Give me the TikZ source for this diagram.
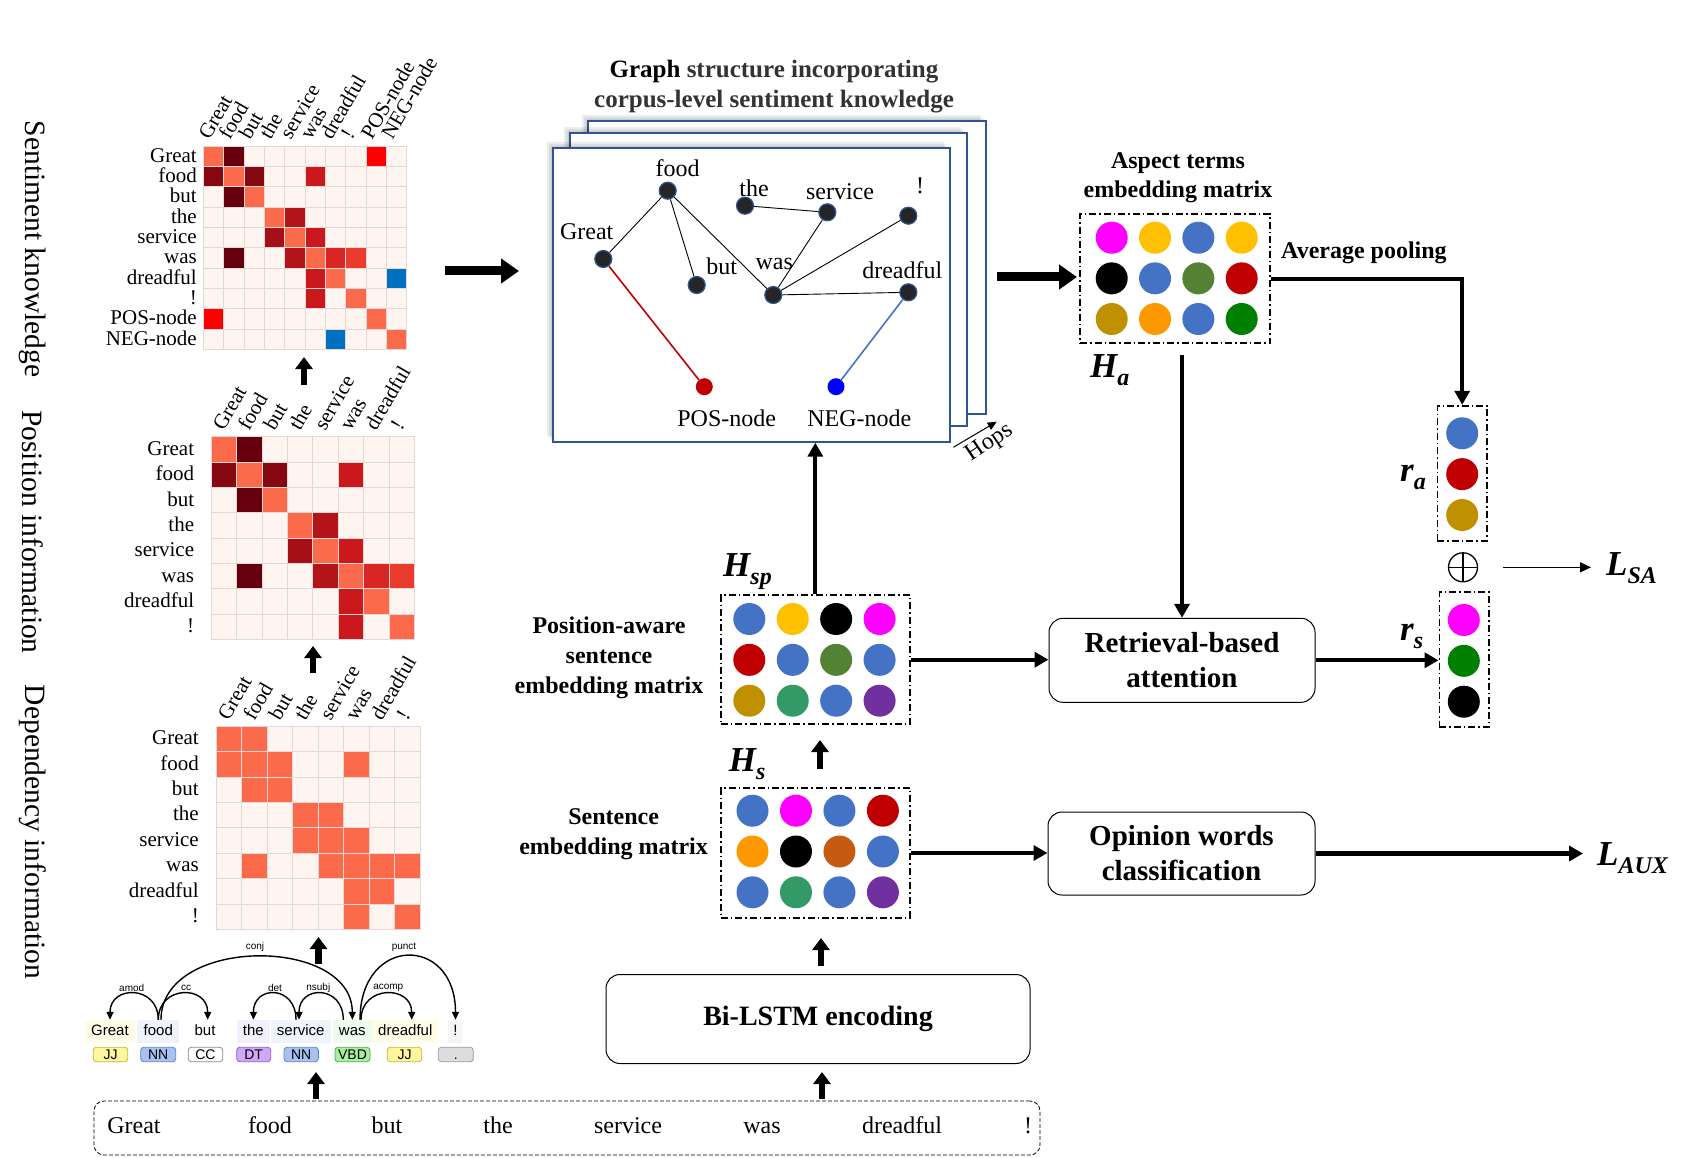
\documentclass[tikz,border=0pt]{standalone}
\usepackage{fontspec}
\setmainfont{Liberation Serif}
\newfontfamily\depsans{Liberation Sans}
\usetikzlibrary{arrows.meta,calc}
\newcommand\myfs[2]{\fontsize{#1}{#2}\selectfont}
\newcommand\sublab[2]{{\myfs{35}{35}\bfseries\itshape #1}\raisebox{-8pt}{\myfs{24}{24}\bfseries\itshape #2}}
\definecolor{cP}{HTML}{FFF5F0}
\definecolor{cO}{HTML}{FB6A4A}
\definecolor{cK}{HTML}{67000D}
\definecolor{cD}{HTML}{860811}
\definecolor{cA}{HTML}{A50F15}
\definecolor{cB}{HTML}{B31419}
\definecolor{cC}{HTML}{CB181D}
\definecolor{cE}{HTML}{D92523}
\definecolor{cF}{HTML}{EB3B2D}
\definecolor{cR}{HTML}{FF0000}
\definecolor{cU}{HTML}{0070C0}
\definecolor{gridc}{HTML}{E6D6D6}
\definecolor{cBl}{HTML}{4472C4}
\definecolor{cYe}{HTML}{FFC000}
\definecolor{cMa}{HTML}{FF00FF}
\definecolor{cRe}{HTML}{C00000}
\definecolor{cGr}{HTML}{548235}
\definecolor{cGo}{HTML}{BF9000}
\definecolor{cOr}{HTML}{FF9900}
\definecolor{cDg}{HTML}{008000}
\definecolor{cTe}{HTML}{339966}
\definecolor{cPu}{HTML}{7030A0}
\definecolor{cBr}{HTML}{C55A11}
\definecolor{panelc}{HTML}{2F5597}
\definecolor{gnodec}{HTML}{252525}
\definecolor{titc}{HTML}{333333}
\definecolor{posc}{HTML}{C00000}
\definecolor{negc}{HTML}{0000FF}
\definecolor{negl}{HTML}{4472C4}
\definecolor{bgY}{HTML}{FFFCE6}
\definecolor{bgB}{HTML}{EEF3FC}
\definecolor{bgP}{HTML}{F4EFFC}
\definecolor{bgG}{HTML}{EEFCEE}
\definecolor{bgE}{HTML}{F5F5F5}
\definecolor{tJJ}{HTML}{FFF7A0}
\definecolor{tJJd}{HTML}{C9B62A}
\definecolor{tNN}{HTML}{A9C1EE}
\definecolor{tNNd}{HTML}{5E84CF}
\definecolor{tCCd}{HTML}{8A8A8A}
\definecolor{tDT}{HTML}{CFA9F7}
\definecolor{tDTd}{HTML}{8E5CC9}
\definecolor{tVB}{HTML}{A8EFA0}
\definecolor{tVBd}{HTML}{45B045}
\definecolor{tPU}{HTML}{DDDDDD}
\definecolor{tPUd}{HTML}{9A9A9A}
\begin{document}
\begin{tikzpicture}[x=1pt,y=-1pt,
  rowlab/.style={anchor=east,font=\myfs{21}{21},inner sep=0pt,text height=15pt,text depth=3pt},
  collab/.style={anchor=base west,rotate=60,font=\myfs{21}{21},inner sep=0pt},
  vlab/.style={rotate=-90,font=\myfs{29.5}{30},inner sep=0pt},
  fatup/.style={line width=6.5pt,-{Triangle[length=12pt,width=17pt]}},
  fatright/.style={line width=9pt,-{Triangle[length=18pt,width=24pt]}},
  medarrow/.style={line width=4.2pt,-{Triangle[length=14pt,width=15pt]}},
  thinarrow/.style={line width=1.6pt,-{Triangle[length=11pt,width=10pt]}},
  dashbox/.style={draw,line width=1.8pt,dash pattern=on 7pt off 3pt on 1.5pt off 3pt,minimum width=189.3pt,minimum height=129.3pt,inner sep=0pt},
  roundbox/.style={draw,rounded corners=14pt,line width=1pt,inner sep=0pt,align=center,font=\myfs{29}{35}\bfseries},
  boldtxt/.style={font=\myfs{24}{30}\bfseries,align=center,inner sep=0pt},
  gnode/.style={circle,fill=gnodec,draw=panelc,line width=1.2pt,minimum size=17pt,inner sep=0pt},
  glab/.style={font=\myfs{24}{24},inner sep=0pt,anchor=base},
  gedge/.style={line width=0.9pt},
  panel/.style={draw=panelc,line width=2pt,fill=white,minimum width=397.5pt,minimum height=293.4pt,inner sep=0pt},
  dword/.style={font=\depsans\myfs{15}{15},minimum height=23pt,inner sep=0pt,text height=11pt,text depth=3pt},
  dtag/.style={font=\depsans\myfs{14}{14},rounded corners=3pt,draw,line width=0.8pt,minimum height=14.4pt,inner sep=0pt,text height=10pt,text depth=1pt},
  darc/.style={line width=1.4pt,-{Triangle[length=8pt,width=7pt]}},
  dlab/.style={font=\depsans\myfs{10}{10},inner sep=0pt},
  sword/.style={font=\myfs{24}{24},anchor=base,inner sep=0pt},
]
\useasboundingbox (0,0) rectangle (1689,1158);
\fill[white] (0,0) rectangle (1689,1158);

% ---------- vertical labels ----------
\node[vlab] (vl1) at (33,249) {Sentiment knowledge};
\node[vlab] (vl2) at (33,532) {Position information};
\node[vlab] (vl3) at (33,832) {Dependency information};

% ---------- matrix 1: sentiment knowledge ----------
\foreach \row [count=\r from 0] in {
  {cO,cK,cP,cP,cP,cP,cP,cP,cR,cP},
  {cD,cO,cD,cP,cP,cC,cP,cP,cP,cP},
  {cP,cK,cO,cP,cP,cP,cP,cP,cP,cP},
  {cP,cP,cP,cO,cB,cP,cP,cP,cP,cP},
  {cP,cP,cP,cA,cO,cC,cP,cP,cP,cP},
  {cP,cK,cP,cP,cB,cO,cE,cF,cP,cP},
  {cP,cP,cP,cP,cP,cC,cO,cP,cP,cU},
  {cP,cP,cP,cP,cP,cC,cP,cO,cP,cP},
  {cR,cP,cP,cP,cP,cP,cP,cP,cO,cP},
  {cP,cP,cP,cP,cP,cP,cU,cP,cP,cO}} {
  \foreach \c [count=\k from 0] in \row {
    \filldraw[fill=\c,draw=gridc,line width=0.6pt] ({203.3+\k*20.33},{146+\r*20.33}) rectangle ++(20.33,20.33);
  }
}
\foreach \w [count=\r from 0] in {Great,food,but,the,service,was,dreadful,!,POS-node,NEG-node} {
  \node[rowlab] (m1r\r) at (197,{146+(\r+0.5)*20.33}) {\w};
  \node[collab] (m1c\r) at ({203.3+(\r+0.5)*20.33-4},141) {\w};
}

% ---------- matrix 2: position ----------
\foreach \row [count=\r from 0] in {
  {cO,cK,cP,cP,cP,cP,cP,cP},
  {cD,cO,cD,cP,cP,cC,cP,cP},
  {cP,cK,cO,cP,cP,cP,cP,cP},
  {cP,cP,cP,cO,cB,cP,cP,cP},
  {cP,cP,cP,cA,cO,cC,cP,cP},
  {cP,cK,cP,cP,cB,cO,cE,cF},
  {cP,cP,cP,cP,cP,cC,cO,cP},
  {cP,cP,cP,cP,cP,cC,cP,cO}} {
  \foreach \c [count=\k from 0] in \row {
    \filldraw[fill=\c,draw=gridc,line width=0.6pt] ({211+\k*25.4},{436.7+\r*25.33}) rectangle ++(25.4,25.33);
  }
}
\foreach \w [count=\r from 0] in {Great,food,but,the,service,was,dreadful,!} {
  \node[rowlab] (m2r\r) at (194.3,{436.7+(\r+0.5)*25.33}) {\w};
  \node[collab] (m2c\r) at ({211+(\r+0.5)*25.4},432) {\w};
}

% ---------- matrix 3: dependency ----------
\foreach \row [count=\r from 0] in {
  {cO,cO,cP,cP,cP,cP,cP,cP},
  {cO,cO,cO,cP,cP,cO,cP,cP},
  {cP,cO,cO,cP,cP,cP,cP,cP},
  {cP,cP,cP,cO,cO,cP,cP,cP},
  {cP,cP,cP,cO,cO,cO,cP,cP},
  {cP,cO,cP,cP,cO,cO,cO,cO},
  {cP,cP,cP,cP,cP,cO,cO,cP},
  {cP,cP,cP,cP,cP,cO,cP,cO}} {
  \foreach \c [count=\k from 0] in \row {
    \filldraw[fill=\c,draw=gridc,line width=0.6pt] ({216+\k*25.5},{726+\r*25.4}) rectangle ++(25.5,25.4);
  }
}
\foreach \w [count=\r from 0] in {Great,food,but,the,service,was,dreadful,!} {
  \node[rowlab] (m3r\r) at (199,{726+(\r+0.5)*25.4}) {\w};
  \node[collab] (m3c\r) at ({216+(\r+0.5)*25.5},722) {\w};
}

% ---------- up arrows on the left ----------
\coordinate (a1s) at (304,385); \coordinate (a1e) at (304,357);
\coordinate (a2s) at (313,673); \coordinate (a2e) at (313,646);
\coordinate (a3s) at (318.5,964); \coordinate (a3e) at (318.5,937);
\coordinate (a4s) at (316,1099); \coordinate (a4e) at (316,1072);
\draw[fatup] (a1s) -- (a1e);
\draw[fatup] (a2s) -- (a2e);
\draw[fatup] (a3s) -- (a3e);
\draw[fatup] (a4s) -- (a4e);

% ---------- dependency parse ----------
\node[dword,fill=bgY,minimum width=50pt] (dw1) at (110,1031.5) {Great};
\node[dword,fill=bgB,minimum width=42pt] (dw2) at (158.3,1031.5) {food};
\node[dword,minimum width=40pt] (dw3) at (205,1031.5) {but};
\node[dword,fill=bgP,minimum width=33.3pt] (dw4) at (253.4,1031.5) {the};
\node[dword,fill=bgB,minimum width=60pt] (dw5) at (300.7,1031.5) {service};
\node[dword,fill=bgG,minimum width=38.7pt] (dw6) at (352.3,1031.5) {was};
\node[dword,fill=bgY,minimum width=66pt] (dw7) at (405.3,1031.5) {dreadful};
\node[dword,fill=bgE,minimum width=15.6pt] (dw8) at (455.5,1031.5) {!};

\node[dtag,fill=tJJ,draw=tJJd,minimum width=34.4pt] (dt1) at (110.5,1054.5) {JJ};
\node[dtag,fill=tNN,draw=tNNd,minimum width=35pt] (dt2) at (158.2,1054.5) {NN};
\node[dtag,fill=white,draw=tCCd,minimum width=34.4pt] (dt3) at (205.5,1054.5) {CC};
\node[dtag,fill=tDT,draw=tDTd,minimum width=34pt] (dt4) at (253.7,1054.5) {DT};
\node[dtag,fill=tNN,draw=tNNd,minimum width=34.3pt] (dt5) at (301.2,1054.5) {NN};
\node[dtag,fill=tVB,draw=tVBd,minimum width=35pt] (dt6) at (352.5,1054.5) {VBD};
\node[dtag,fill=tJJ,draw=tJJd,minimum width=34.4pt] (dt7) at (404.5,1054.5) {JJ};
\node[dtag,fill=tPU,draw=tPUd,minimum width=35pt] (dt8) at (455.8,1054.5) {.};

\draw[darc] (dw2.north) .. controls +(0,-35) and +(0,-35) .. (dw1.north);
\draw[darc] (dw2.north) .. controls +(0,-35) and +(0,-35) .. ([xshift=2.7pt]dw3.north);
\draw[darc] ([xshift=-4.7pt]dw5.north) .. controls +(0,-35) and +(0,-35) .. (dw4.north);
\draw[darc] ([xshift=-9pt]dw6.north) .. controls +(0,-35) and +(0,-35) .. ([xshift=-1.7pt]dw5.north);
\draw[darc] ([xshift=8.7pt]dw6.north) .. controls +(0,-35) and +(0,-35) .. ([xshift=6.4pt]dw7.north);
\draw[darc] ([xshift=2.7pt]dw2.north) .. controls +(0,-84) and +(0,-84) .. (dw6.north);
\draw[darc] ([xshift=7.7pt]dw6.north) .. controls +(0,-85) and +(0,-85) .. (dw8.north);
\node[dlab] (lamod) at (131.7,988) {amod};
\node[dlab] (lcc) at (186,988) {cc};
\node[dlab] (ldet) at (275,988) {det};
\node[dlab] (lnsubj) at (318.3,988) {nsubj};
\node[dlab] (lacomp) at (388.3,988) {acomp};
\node[dlab] (lconj) at (255,947) {conj};
\node[dlab] (lpunct) at (404,947) {punct};

% ---------- bottom sentence ----------
\node[draw,dashed,dash pattern=on 4pt off 2pt,line width=0.8pt,rounded corners=10pt,minimum width=946pt,minimum height=54pt,inner sep=0pt] (sent) at (567,1128) {};
\node[sword] (s1) at (134,1133) {Great};
\node[sword] (s2) at (270,1133) {food};
\node[sword] (s3) at (387,1133) {but};
\node[sword] (s4) at (498,1133) {the};
\node[sword] (s5) at (628,1133) {service};
\node[sword] (s6) at (762,1133) {was};
\node[sword] (s7) at (902,1133) {dreadful};
\node[sword] (s8) at (1028,1133) {!};

% ---------- Bi-LSTM ----------
\node[roundbox,minimum width=424pt,minimum height=89pt,font=\myfs{28}{34}\bfseries] (bilstm) at (818,1019) {Bi-LSTM encoding};
\coordinate (a5s) at (822,1099); \coordinate (a5e) at (822,1072);
\coordinate (a6s) at (821,966); \coordinate (a6e) at (821,938);
\coordinate (a7s) at (820,769); \coordinate (a7e) at (820,740);
\draw[fatup] (a5s) -- (a5e);
\draw[fatup] (a6s) -- (a6e);
\draw[fatup] (a7s) -- (a7e);

% ---------- embedding matrices ----------
\node[dashbox] (hs) at (815.3,853) {};
\foreach \row [count=\r from 0] in {{cBl,cMa,cBl,cRe},{cOr,black,cBr,cBl},{cBl,cTe,cBl,cPu}} {
  \foreach \c [count=\k from 0] in \row {
    \fill[fill=\c] ({752.5+\k*43.47},{810.7+\r*40.8}) circle[radius=16pt];
  }
}
\node[dashbox] (hsp) at (815.3,659.7) {};
\foreach \row [count=\r from 0] in {{cBl,cYe,black,cMa},{cRe,cBl,cGr,cBl},{cGo,cTe,cBl,cPu}} {
  \foreach \c [count=\k from 0] in \row {
    \fill[fill=\c] ({749.3+\k*43.43},{619+\r*40.85}) circle[radius=16pt];
  }
}
\node[anchor=base west,inner sep=0pt] (lhsp) at (723,576.7) {\sublab{H}{sp}};
\node[anchor=base west,inner sep=0pt] (lhs) at (728.6,771.7) {\sublab{H}{s}};
\node[boldtxt] (tpos) at (609,658) {Position-aware\\sentence\\embedding matrix};
\node[boldtxt] (tsen) at (613.6,834) {Sentence\\embedding matrix};

% ---------- graph panels ----------
\foreach \s in {6,4,2} {\fill[black,opacity=0.07] ({787.2-198.75-\s},{267.4-146.7-\s}) rectangle ({787.2+198.75-\s},{267.4+146.7-\s});}
\node[panel] (back) at (787.2,267.4) {};
\foreach \s in {6,4,2} {\fill[black,opacity=0.07] ({768.3-198.75-\s},{279.4-146.7-\s}) rectangle ({768.3+198.75-\s},{279.4+146.7-\s});}
\node[panel] (mid) at (768.3,279.4) {};
\foreach \s in {6,4,2} {\fill[black,opacity=0.07] ({751.4-198.75-\s},{295-146.7-\s}) rectangle ({751.4+198.75-\s},{295+146.7-\s});}
\node[panel] (front) at (751.4,295) {};

\node[font=\myfs{25}{30}\bfseries,align=center,inner sep=0pt] (gtitle) at (774,87)
  {Graph {\color{titc}structure incorporating}\\{\color{titc}corpus-level sentiment knowledge}};

\node[gnode] (gfood) at (667.7,190.7) {};
\node[gnode] (ggreat) at (603.3,259) {};
\node[gnode] (gbut) at (696.7,285) {};
\node[gnode] (gthe) at (745,205.7) {};
\node[gnode] (gserv) at (827.3,212.3) {};
\node[gnode] (gexcl) at (908.3,215.7) {};
\node[gnode] (gwas) at (773.3,295) {};
\node[gnode] (gdread) at (908.3,292.3) {};
\node[circle,fill=posc,minimum size=17pt,inner sep=0pt] (gpos) at (704.3,386.7) {};
\node[circle,fill=negc,minimum size=17pt,inner sep=0pt] (gneg) at (836,386.7) {};
\draw[gedge] (ggreat) -- (gfood);
\draw[gedge] (gfood) -- (gbut);
\draw[gedge] (gfood) -- (gwas);
\draw[gedge] (gthe) -- (gserv);
\draw[gedge] (gserv) -- (gwas);
\draw[gedge] (gexcl) -- (gwas);
\draw[gedge] (gwas) -- (gdread);
\draw[line width=1.6pt,posc] (ggreat) -- (gpos);
\draw[line width=1.6pt,negl] (gdread) -- (gneg);
\node[glab] (lfood) at (677.7,176.7) {food};
\node[glab] (lgreat) at (586.7,240) {Great};
\node[glab] (lthe) at (754,196.7) {the};
\node[glab] (lserv) at (840,200) {service};
\node[glab] (lexcl) at (920,194) {!};
\node[glab] (lbut) at (721.7,275) {but};
\node[glab] (lwas) at (774.3,269.3) {was};
\node[glab] (ldread) at (902.3,278.3) {dreadful};
\node[glab] (lpos) at (726.7,426.7) {POS-node};
\node[glab] (lneg) at (859.3,426.7) {NEG-node};

\coordinate (hopsA) at (953.3,447.3); \coordinate (hopsB) at (996.7,421.7);
\draw[line width=1pt,-{Triangle[length=9pt,width=8pt]}] (hopsA) -- (hopsB);
\node[font=\myfs{24}{24},rotate=34,inner sep=0pt] (hops) at (990,443) {Hops};

% ---------- big arrows ----------
\coordinate (b1s) at (445,271); \coordinate (b1e) at (519,271);
\coordinate (b2s) at (997,277); \coordinate (b2e) at (1077,277);
\draw[fatright] (b1s) -- (b1e);
\draw[fatright] (b2s) -- (b2e);
\draw[medarrow] (hsp.north) -- (hsp.north |- front.south);

% ---------- aspect matrix ----------
\node[dashbox,minimum width=190pt] (asp) at (1175,278.7) {};
\foreach \row [count=\r from 0] in {{cMa,cYe,cBl,cYe},{black,cBl,cGr,cRe},{cGo,cOr,cBl,cDg}} {
  \foreach \c [count=\k from 0] in \row {
    \fill[fill=\c] ({1111.7+\k*43.33},{237.7+\r*40.65}) circle[radius=16pt];
  }
}
\node[font=\myfs{24}{28.5}\bfseries,align=center,inner sep=0pt] (tasp) at (1178,177.5) {Aspect terms\\embedding matrix};
\node[font=\myfs{24}{24}\bfseries,anchor=base west,inner sep=0pt] (tavg) at (1281,258.3) {Average pooling};
\node[anchor=base west,inner sep=0pt] (lha) at (1090,377.3) {\sublab{H}{a}};

% ---------- right column ----------
\node[dashbox,minimum width=49.6pt,minimum height=135pt] (ra) at (1462.2,473.2) {};
\foreach \c [count=\r from 0] in {cBl,cRe,cGo} {\fill[fill=\c] (1462.2,{433.3+\r*40.85}) circle[radius=16pt];}
\node[dashbox,minimum width=49.6pt,minimum height=135pt] (rs) at (1464.2,659.8) {};
\foreach \c [count=\r from 0] in {cMa,cDg,black} {\fill[fill=\c] (1463.8,{620+\r*40.85}) circle[radius=16pt];}
\node[anchor=base west,inner sep=0pt] (lra) at (1400,481.7) {\sublab{r}{a}};
\node[anchor=base west,inner sep=0pt] (lrs) at (1400,640) {\sublab{r}{s}};

\node[circle,draw,line width=1.3pt,minimum size=29pt,inner sep=0pt] (oplus) at (1463,567.3) {};
\draw[line width=1.3pt] (oplus.north) -- (oplus.south) (oplus.west) -- (oplus.east);
\coordinate (lsaS) at (1503,567.3); \coordinate (lsaE) at (1591,567.3);
\draw[thinarrow] (lsaS) -- (lsaE);
\node[anchor=base west,inner sep=0pt] (lsa) at (1606,575) {\sublab{L}{SA}};

\node[roundbox,minimum width=266pt,minimum height=84pt] (ret) at (1182,660.3) {Retrieval-based\\attention};
\node[roundbox,minimum width=267pt,minimum height=83pt] (opw) at (1181.5,853.5) {Opinion words\\classification};
\coordinate (laux) at (1583,853.5);
\node[anchor=base west,inner sep=0pt] (llaux) at (1597,865) {\sublab{L}{AUX}};

\coordinate (aspdn) at (1182,355);
\draw[medarrow] (aspdn) -- (ret.north);
\draw[medarrow] (asp.east) -| (ra.north);
\draw[medarrow] (hsp.east) -- (hsp.east -| ret.west);
\draw[medarrow] (hs.east) -- (hs.east -| opw.west);
\draw[medarrow] (ret.east) -- (ret.east -| rs.west);
\draw[medarrow] (opw.east) -- (laux);
\end{tikzpicture}
\end{document}
